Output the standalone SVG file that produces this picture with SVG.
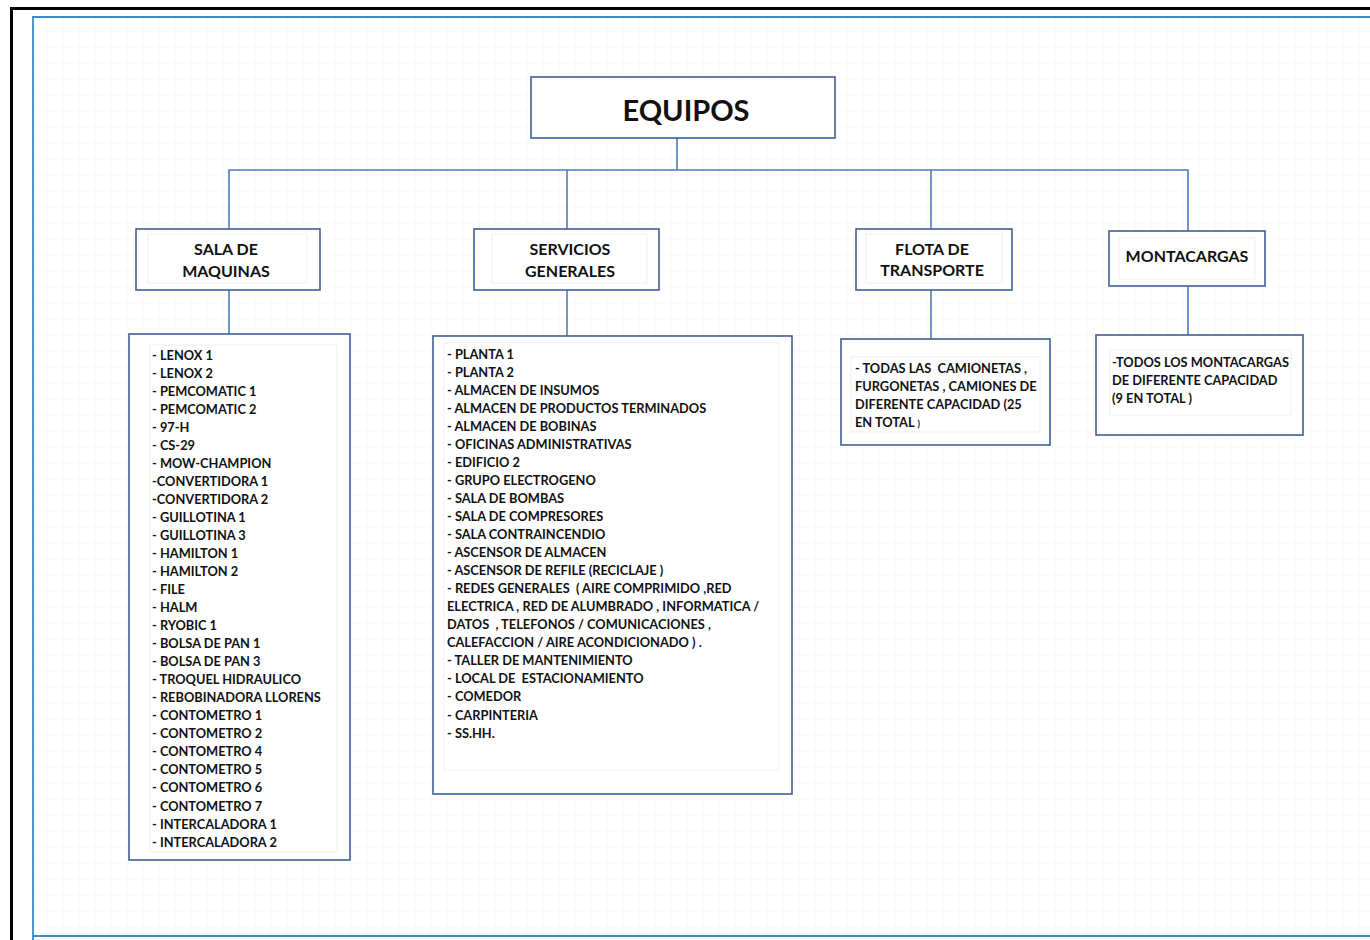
<svg xmlns="http://www.w3.org/2000/svg" width="1370" height="940" viewBox="0 0 1370 940">
  <defs>
    <pattern id="grid" width="16" height="16" patternUnits="userSpaceOnUse">
      <path d="M16 0V16M0 16H16" fill="none" stroke="#f4f4f4" stroke-width="1"/>
    </pattern>
    <style>
      .box{fill:#fff;stroke:#3f5f94;stroke-width:1.6}
      .inner{fill:#fff;stroke:#efefef;stroke-width:1}
      .wire{fill:none;stroke:#4f7cb8;stroke-width:1.6}
      .t{font-family:Lato,"Open Sans","Liberation Sans",sans-serif;font-weight:bold;fill:#111}
      .head{font-size:16px;text-anchor:middle}
      .item{font-size:12.8px}
    </style>
  </defs>

  <!-- page -->
  <rect x="0" y="0" width="1370" height="940" fill="#fff"/>
  <rect x="33" y="17" width="1337" height="919" fill="url(#grid)"/>
  <path d="M11.5 940V8.5H1370" fill="none" stroke="#000" stroke-width="3"/>
  <path d="M33 940V17H1370M33 936H1370" fill="none" stroke="#3d8ac6" stroke-width="1.8"/>

  <!-- connectors -->
  <g id="connectors" class="wire">
    <path d="M677 138V170"/>
    <path d="M229 229V170H1188V231"/>
    <path d="M567 170V229"/>
    <path d="M931 170V229"/>
    <path d="M229 290V334"/>
    <path d="M567 290V336"/>
    <path d="M931 290V339"/>
    <path d="M1188 286V335"/>
  </g>

  <!-- root -->
  <g id="equipos">
    <rect class="box" x="531" y="77" width="304" height="61"/>
    <text class="t" x="686" y="121" font-size="29" text-anchor="middle">EQUIPOS</text>
  </g>

  <!-- branches -->
  <g id="sala-de-maquinas">
    <rect class="box" x="136" y="229" width="184" height="61"/>
    <rect class="inner" x="148" y="234" width="159" height="49"/>
    <text class="t head" x="226" y="255">SALA DE</text>
    <text class="t head" x="226" y="277">MAQUINAS</text>
  </g>

  <g id="servicios-generales">
    <rect class="box" x="474" y="229" width="185" height="61"/>
    <rect class="inner" x="492" y="234" width="155" height="49"/>
    <text class="t head" x="570" y="255">SERVICIOS</text>
    <text class="t head" x="570" y="277">GENERALES</text>
  </g>

  <g id="flota-de-transporte">
    <rect class="box" x="856" y="229" width="156" height="61"/>
    <rect class="inner" x="866" y="234" width="136" height="49"/>
    <text class="t head" x="932" y="255">FLOTA DE</text>
    <text class="t head" x="932" y="276">TRANSPORTE</text>
  </g>

  <g id="montacargas">
    <rect class="box" x="1109" y="231" width="156" height="55"/>
    <rect class="inner" x="1119" y="238" width="136" height="41"/>
    <text class="t head" x="1187" y="262">MONTACARGAS</text>
  </g>

  <!-- detail lists -->
  <g id="lista-sala-de-maquinas">
    <rect class="box" x="129" y="334" width="221" height="526"/>
    <rect class="inner" x="150" y="345" width="187" height="507"/>
    <text class="t item" x="152" y="359.5">
      <tspan x="152" dy="0">- LENOX 1</tspan>
      <tspan x="152" dy="18.04">- LENOX 2</tspan>
      <tspan x="152" dy="18.04">- PEMCOMATIC 1</tspan>
      <tspan x="152" dy="18.04">- PEMCOMATIC 2</tspan>
      <tspan x="152" dy="18.04">- 97-H</tspan>
      <tspan x="152" dy="18.04">- CS-29</tspan>
      <tspan x="152" dy="18.04">- MOW-CHAMPION</tspan>
      <tspan x="152" dy="18.04">-CONVERTIDORA 1</tspan>
      <tspan x="152" dy="18.04">-CONVERTIDORA 2</tspan>
      <tspan x="152" dy="18.04">- GUILLOTINA 1</tspan>
      <tspan x="152" dy="18.04">- GUILLOTINA 3</tspan>
      <tspan x="152" dy="18.04">- HAMILTON 1</tspan>
      <tspan x="152" dy="18.04">- HAMILTON 2</tspan>
      <tspan x="152" dy="18.04">- FILE</tspan>
      <tspan x="152" dy="18.04">- HALM</tspan>
      <tspan x="152" dy="18.04">- RYOBIC 1</tspan>
      <tspan x="152" dy="18.04">- BOLSA DE PAN 1</tspan>
      <tspan x="152" dy="18.04">- BOLSA DE PAN 3</tspan>
      <tspan x="152" dy="18.04">- TROQUEL HIDRAULICO</tspan>
      <tspan x="152" dy="18.04">- REBOBINADORA LLORENS</tspan>
      <tspan x="152" dy="18.04">- CONTOMETRO 1</tspan>
      <tspan x="152" dy="18.04">- CONTOMETRO 2</tspan>
      <tspan x="152" dy="18.04">- CONTOMETRO 4</tspan>
      <tspan x="152" dy="18.04">- CONTOMETRO 5</tspan>
      <tspan x="152" dy="18.04">- CONTOMETRO 6</tspan>
      <tspan x="152" dy="18.04">- CONTOMETRO 7</tspan>
      <tspan x="152" dy="18.04">- INTERCALADORA 1</tspan>
      <tspan x="152" dy="18.04">- INTERCALADORA 2</tspan>
    </text>
  </g>

  <g id="lista-servicios-generales">
    <rect class="box" x="433" y="336" width="359" height="458"/>
    <rect class="inner" x="444" y="343" width="335" height="427"/>
    <text class="t item" x="447" y="358.5">
      <tspan x="447" dy="0">- PLANTA 1</tspan>
      <tspan x="447" dy="18.05">- PLANTA 2</tspan>
      <tspan x="447" dy="18.05">- ALMACEN DE INSUMOS</tspan>
      <tspan x="447" dy="18.05">- ALMACEN DE PRODUCTOS TERMINADOS</tspan>
      <tspan x="447" dy="18.05">- ALMACEN DE BOBINAS</tspan>
      <tspan x="447" dy="18.05">- OFICINAS ADMINISTRATIVAS</tspan>
      <tspan x="447" dy="18.05">- EDIFICIO 2</tspan>
      <tspan x="447" dy="18.05">- GRUPO ELECTROGENO</tspan>
      <tspan x="447" dy="18.05">- SALA DE BOMBAS</tspan>
      <tspan x="447" dy="18.05">- SALA DE COMPRESORES</tspan>
      <tspan x="447" dy="18.05">- SALA CONTRAINCENDIO</tspan>
      <tspan x="447" dy="18.05">- ASCENSOR DE ALMACEN</tspan>
      <tspan x="447" dy="18.05">- ASCENSOR DE REFILE (RECICLAJE )</tspan>
      <tspan x="447" dy="18.05" xml:space="preserve">- REDES GENERALES  ( AIRE COMPRIMIDO ,RED</tspan>
      <tspan x="447" dy="18.05">ELECTRICA , RED DE ALUMBRADO , INFORMATICA /</tspan>
      <tspan x="447" dy="18.05" xml:space="preserve">DATOS  , TELEFONOS / COMUNICACIONES ,</tspan>
      <tspan x="447" dy="18.05">CALEFACCION / AIRE ACONDICIONADO ) .</tspan>
      <tspan x="447" dy="18.05">- TALLER DE MANTENIMIENTO</tspan>
      <tspan x="447" dy="18.05" xml:space="preserve">- LOCAL DE  ESTACIONAMIENTO</tspan>
      <tspan x="447" dy="18.05">- COMEDOR</tspan>
      <tspan x="447" dy="18.05">- CARPINTERIA</tspan>
      <tspan x="447" dy="18.05">- SS.HH.</tspan>
    </text>
  </g>

  <g id="lista-flota-de-transporte">
    <rect class="box" x="841" y="339" width="209" height="106"/>
    <rect class="inner" x="851" y="357" width="189" height="75"/>
    <text class="t item" x="855" y="373">
      <tspan x="855" dy="0" xml:space="preserve">- TODAS LAS  CAMIONETAS ,</tspan>
      <tspan x="855" dy="18">FURGONETAS , CAMIONES DE</tspan>
      <tspan x="855" dy="18">DIFERENTE CAPACIDAD (25</tspan>
      <tspan x="855" dy="18">EN TOTAL <tspan font-size="9">)</tspan></tspan>
    </text>
  </g>

  <g id="lista-montacargas">
    <rect class="box" x="1096" y="335" width="207" height="100"/>
    <rect class="inner" x="1110" y="350" width="181" height="65"/>
    <text class="t item" x="1112" y="367">
      <tspan x="1112" dy="0">-TODOS LOS MONTACARGAS</tspan>
      <tspan x="1112" dy="18">DE DIFERENTE CAPACIDAD</tspan>
      <tspan x="1112" dy="18">(9 EN TOTAL )</tspan>
    </text>
  </g>
</svg>
